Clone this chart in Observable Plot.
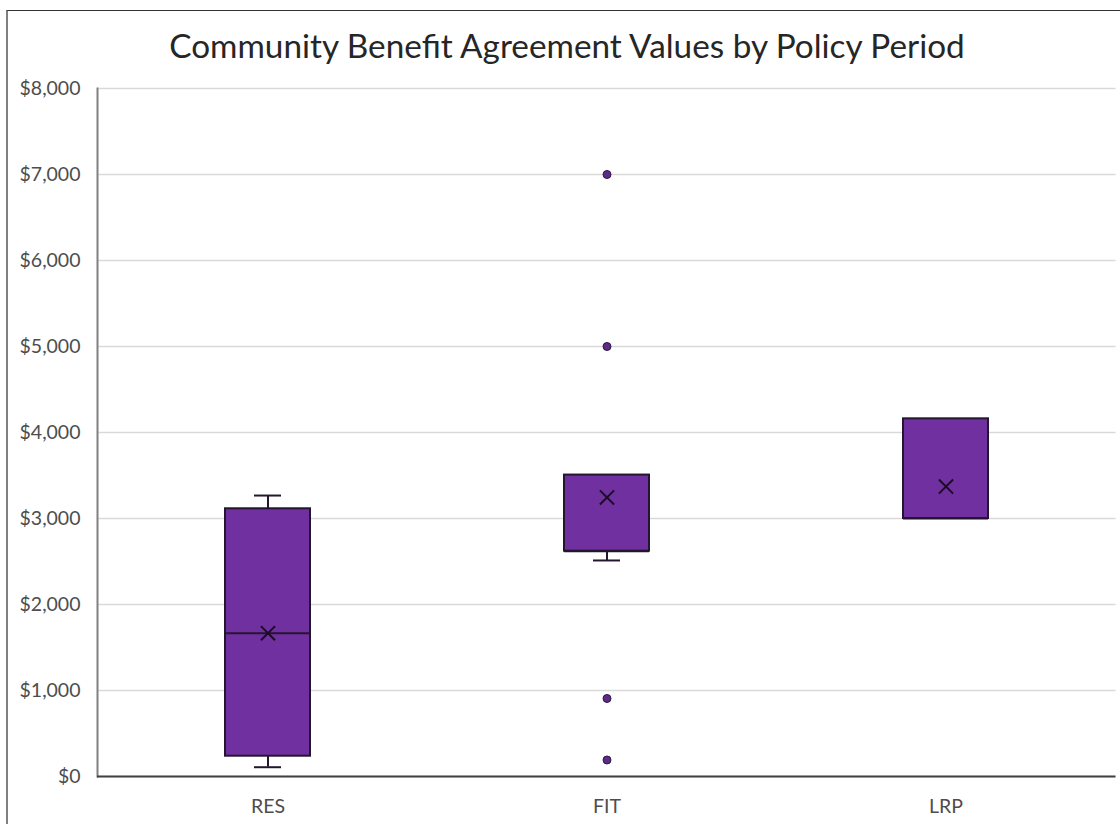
<!DOCTYPE html>
<html>
<head>
<meta charset="utf-8">
<script src="https://cdn.jsdelivr.net/npm/d3@7"></script>
<script src="https://cdn.jsdelivr.net/npm/@observablehq/plot@0.6"></script>
<style>
  html, body { margin: 0; padding: 0; background: #fff; width: 1120px; height: 824px; overflow: hidden; }
  #frame { position: absolute; left: 6px; top: 10px; right: 0; bottom: 0; border-left: 2px solid #808080; border-top: 1.5px solid #333; pointer-events: none; }
  #title { position: absolute; left: 0; top: 0; width: 1134px; height: 70px; text-align: center; font-family: Lato, sans-serif; font-size: 33.3px; line-height: 90px; color: #262626; }
  #chart { position: absolute; left: 0; top: 70px; }
  #chart text { font-family: Lato, sans-serif; }
</style>
</head>
<body>
<div id="title">Community Benefit Agreement Values by Policy Period</div>
<div id="chart"></div>
<div id="frame"></div>
<script>
const categories = ["RES", "FIT", "LRP"];
const q1 = [236, 2620, 3000];
const median = [1666, 2620, 3000];
const q3 = [3113, 3505, 4159];
const mean = [1666, 3245, 3372];
const whiskerLow = [108, 2512, 3000];
const whiskerHigh = [3267, 3505, 4159];
const outlierCategory = ["FIT", "FIT", "FIT", "FIT"];
const outlierValue = [7000, 5000, 907, 192];
const yTicks = [0, 1000, 2000, 3000, 4000, 5000, 6000, 7000, 8000];

const stats = categories.map((c, i) => ({
  cat: c, q1: q1[i], median: median[i], q3: q3[i], mean: mean[i],
  lo: whiskerLow[i], hi: whiskerHigh[i]
}));
const outliers = outlierValue.map((v, i) => ({cat: outlierCategory[i], v}));

const fmt = d => "$" + d3.format(",")(d);
const boxFill = "#7030a0";
const edge = "#24162f";

const chart = Plot.plot({
  width: 1120,
  height: 754,
  marginLeft: 97,
  marginRight: 4.5,
  marginTop: 18,
  marginBottom: 48,
  style: {fontFamily: "Lato, sans-serif", background: "transparent"},
  x: {domain: categories, padding: 0, label: null},
  y: {domain: [0, 8000], ticks: yTicks, label: null},
  marks: [
    Plot.gridY(yTicks, {stroke: "#d9d9d9", strokeOpacity: 1, strokeWidth: 1.5}),
    Plot.axisY(yTicks, {tickSize: 0, tickPadding: 17, tickFormat: fmt, fontSize: 19.5, fill: "#4d4d4d", label: null}),
    Plot.axisX({tickSize: 0, tickPadding: 23, fontSize: 19.5, fill: "#4d4d4d", label: null}),
    Plot.frame({anchor: "left", stroke: "#808080", strokeWidth: 2}),
    Plot.ruleY([0], {stroke: "#404040", strokeWidth: 2}),
    Plot.ruleX(stats, {x: "cat", y1: "q3", y2: "hi", stroke: edge, strokeWidth: 2}),
    Plot.ruleX(stats, {x: "cat", y1: "lo", y2: "q1", stroke: edge, strokeWidth: 2}),
    Plot.tickY(stats.filter(d => d.hi > d.q3), {x: "cat", y: "hi", stroke: edge, strokeWidth: 2, insetLeft: 156, insetRight: 156}),
    Plot.tickY(stats.filter(d => d.lo < d.q1), {x: "cat", y: "lo", stroke: edge, strokeWidth: 2, insetLeft: 156, insetRight: 156}),
    Plot.barY(stats, {x: "cat", y1: "q1", y2: "q3", fill: boxFill, stroke: edge, strokeWidth: 2, insetLeft: 127, insetRight: 127}),
    Plot.tickY(stats, {x: "cat", y: "median", stroke: edge, strokeWidth: 2, insetLeft: 127, insetRight: 127}),
    Plot.dot(stats, {x: "cat", y: "mean", symbol: "times", r: 6.5, stroke: "#1a0c26", strokeWidth: 2}),
    Plot.dot(outliers, {x: "cat", y: "v", r: 4, fill: "#5e2a88", stroke: "#2b1b3d", strokeWidth: 1})
  ]
});
document.getElementById("chart").appendChild(chart);
</script>
</body>
</html>
